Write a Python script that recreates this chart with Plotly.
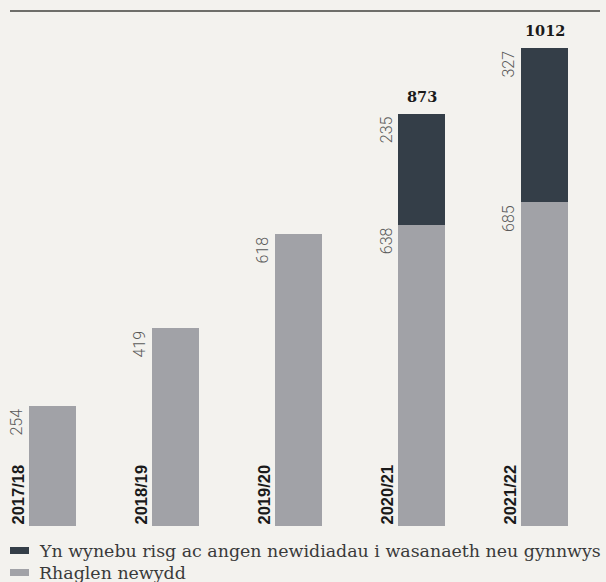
import plotly.graph_objects as go

years = ["2017/18", "2018/19", "2019/20", "2020/21", "2021/22"]
new_programme = [254, 419, 618, 638, 685]
at_risk = [0, 0, 0, 235, 327]
totals = [None, None, None, 873, 1012]
series_names = ["Yn wynebu risg ac angen newidiadau i wasanaeth neu gynnwys", "Rhaglen newydd"]

GREY = "#a1a2a7"
DARK = "#343e48"
BG = "#f3f2ee"
series_colors = [DARK, GREY]

W, H = 606, 582
MT, MB = 11, 56
xs = list(range(len(years)))
fig = go.Figure()
fig.add_trace(go.Bar(x=xs, y=new_programme, name=series_names[1], marker=dict(color=GREY, line=dict(width=0)),
                     width=0.382, showlegend=False, hoverinfo="skip"))
fig.add_trace(go.Bar(x=xs, y=at_risk, name=series_names[0], marker=dict(color=DARK, line=dict(width=0)),
                     width=0.382, showlegend=False, hoverinfo="skip"))

ann = []
shapes = [dict(type="line", xref="paper", yref="paper", x0=10 / W, x1=600 / W, y0=1, y1=1,
               line=dict(color="#6e6e6a", width=2))]
for i, yr in enumerate(years):
    ann.append(dict(x=i, y=0, xref="x", yref="y", text=yr, textangle=-90, showarrow=False,
                    xanchor="right", yanchor="bottom", xshift=-24, yshift=-1,
                    font=dict(family="Liberation Sans", size=16.5, color="#1a1a1a", weight="bold")))
    ann.append(dict(x=i, y=new_programme[i], xref="x", yref="y", text=str(new_programme[i]), textangle=-90,
                    showarrow=False, xanchor="right", yanchor="top", xshift=-24, yshift=-1,
                    font=dict(family="Roboto", size=16, color="#5a5a5a", weight=300)))
    if at_risk[i]:
        top = new_programme[i] + at_risk[i]
        ann.append(dict(x=i, y=top, xref="x", yref="y", text=str(at_risk[i]), textangle=-90,
                        showarrow=False, xanchor="right", yanchor="top", xshift=-24, yshift=-1,
                        font=dict(family="Roboto", size=16, color="#5a5a5a", weight=300)))
    if totals[i]:
        ann.append(dict(x=i, y=totals[i], xref="x", yref="y", text=str(totals[i]), showarrow=False,
                        xanchor="center", yanchor="bottom", yshift=7,
                        font=dict(family="DejaVu Serif", size=14.5, color="#1a1a1a", weight="bold")))

# legend drawn manually to match the flat rectangular swatches
plot_h = H - MT - MB
def py(ypix):
    return (H - MB - ypix) / plot_h

leg_rows = [550.5, 572.5]
for name, col, yc in zip(series_names, series_colors, leg_rows):
    shapes.append(dict(type="rect", xref="paper", yref="paper", x0=10 / W, x1=29 / W,
                       y0=py(yc + 3.5), y1=py(yc - 3.5), line=dict(width=0), fillcolor=col))
    ann.append(dict(x=37 / W, y=py(yc), xref="paper", yref="paper", text=name, showarrow=False,
                    xanchor="left", yanchor="middle",
                    font=dict(family="DejaVu Serif", size=17.4, color="#3a3a3a")))

fig.update_layout(
    width=W, height=H,
    margin=dict(l=0, r=0, t=MT, b=MB),
    paper_bgcolor=BG, plot_bgcolor=BG,
    barmode="stack",
    xaxis=dict(range=[-0.4268, 4.5], visible=False, fixedrange=True),
    yaxis=dict(range=[0, 1090.4], visible=False, fixedrange=True),
    showlegend=False,
    hovermode=False,
    annotations=ann,
    shapes=shapes,
)
fig.write_html("out.html", config={"displayModeBar": False},
               post_script="document.body.style.margin='0';document.body.style.overflow='hidden';")
